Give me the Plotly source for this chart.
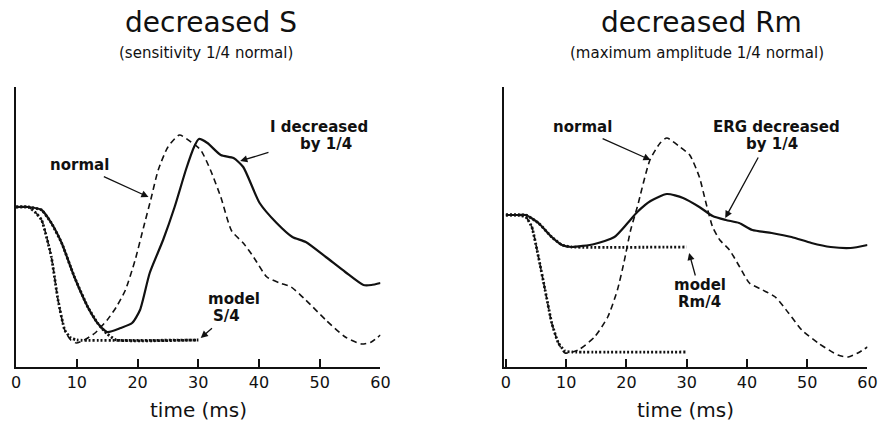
import plotly.graph_objects as go

# ---------------- data (arbitrary response units, time in ms) ----------------
# Left panel: decreased S
s_normal_t = [0, 2, 3.1, 4.2, 5.8, 6.9, 8.0, 9.0, 9.9, 11.5, 13.0, 15.0, 16.5, 18.0, 19.6, 21.0,
              22.2, 23.4, 25.0, 26.9, 28.8, 30.4, 32.0, 33.7, 35.5, 37.4, 39.1, 41.3, 43.4,
              45.3, 47.7, 51.0, 54.2, 56.9, 58.5, 60]
s_normal_v = [160, 160, 155, 147, 110, 67, 37, 27, 24, 28, 34, 47, 60, 77, 107, 140,
              168, 197, 220, 232, 225, 217, 197, 170, 136, 124, 110, 90, 84,
              80, 67, 47, 30, 23, 25, 32]

s_erg_t = [0, 2, 4.2, 5.8, 7.5, 9.6, 11.8, 13.4, 15.0, 17.2, 19.1, 20.4, 22.0, 24.2, 26.1,
           28.0, 29.3, 30.1, 31.5, 33.7, 35.8, 37.4, 40.1, 42.9, 45.5, 47.7, 51.0, 54.2,
           57.2, 58.5, 60]
s_erg_v = [160, 160, 157, 144, 124, 90, 60, 44, 35, 39, 44, 57, 94, 127, 160,
           198, 220, 228, 224, 212, 209, 200, 164, 144, 130, 125, 110, 95,
           82, 82, 84]

s_model_normal_t = [0, 2, 3.1, 4.2, 5.8, 6.9, 8.0, 9.0, 10.0, 30]
s_model_normal_v = [160, 160, 155, 147, 110, 67, 37, 29, 27, 27]

s_model_s4_t = [0, 2, 4.2, 5.8, 7.5, 9.6, 11.8, 13.4, 15.0, 16.5, 30]
s_model_s4_v = [160, 160, 157, 144, 124, 90, 60, 44, 33, 27, 27]

# Right panel: decreased Rm
r_normal_t = [0, 2, 3.3, 4.3, 5.4, 6.5, 7.6, 8.7, 9.8, 12.0, 14.7, 16.9, 18.5, 19.6, 20.7,
              21.8, 23.9, 25.6, 26.7, 28.9, 30.5, 32.1, 33.2, 34.3, 35.5, 37.1, 38.8, 40.4,
              42.6, 44.7, 46.9, 49.1, 51.8, 55.1, 56.8, 58.4, 60]
r_normal_v = [152, 152, 150, 140, 110, 77, 44, 24, 14, 17, 30, 50, 77, 105, 137,
              160, 207, 224, 229, 220, 212, 190, 164, 140, 127, 117, 100, 84,
              77, 70, 54, 37, 24, 12, 10, 14, 20]

r_erg_t = [0, 2, 3.3, 5.4, 7.6, 9.3, 10.9, 14.7, 18.0, 20.2, 21.8, 24.0, 26.7, 29.4, 32.1,
           34.3, 36.5, 38.7, 40.9, 44.1, 47.4, 50.7, 53.9, 57.2, 60]
r_erg_v = [152, 152, 152, 144, 130, 122, 120, 123, 130, 144, 155, 166, 173, 169, 160,
           151, 147, 144, 137, 134, 130, 124, 120, 119, 122]

r_model_normal_t = [0, 2, 3.3, 4.3, 5.4, 6.5, 7.6, 8.7, 9.8, 11.0, 30]
r_model_normal_v = [152, 152, 150, 140, 110, 77, 44, 24, 16, 15, 15]

r_model_rm4_t = [0, 2, 3.3, 5.4, 7.6, 9.3, 10.9, 30]
r_model_rm4_v = [152, 152, 152, 144, 130, 122, 120, 120]

x_ticks = [0, 10, 20, 30, 40, 50, 60]

# ---------------- styling ----------------
W, H = 889, 423
BLACK = "#111111"
FONT = "DejaVu Sans"
dashed = dict(color=BLACK, width=1.6, dash="6px,4px", shape="spline", smoothing=0.6)
solid = dict(color=BLACK, width=2.2, shape="spline", smoothing=0.6)
dotted = dict(color=BLACK, width=2.8, dash="2px,2px", shape="spline", smoothing=0.4)

fig = go.Figure()


def add(t, v, line, xa, ya):
    fig.add_trace(go.Scatter(x=t, y=v, mode="lines", line=line, xaxis=xa, yaxis=ya,
                             hoverinfo="skip", showlegend=False))


add(s_normal_t, s_normal_v, dashed, "x", "y")
add(s_erg_t, s_erg_v, solid, "x", "y")
add(s_model_normal_t, s_model_normal_v, dotted, "x", "y")
add(s_model_s4_t, s_model_s4_v, dotted, "x", "y")

add(r_normal_t, r_normal_v, dashed, "x2", "y2")
add(r_erg_t, r_erg_v, solid, "x2", "y2")
add(r_model_normal_t, r_model_normal_v, dotted, "x2", "y2")
add(r_model_rm4_t, r_model_rm4_v, dotted, "x2", "y2")

y_dom = [(H - 367) / H, (H - 87) / H]

xcommon = dict(showgrid=False, zeroline=False, showline=True, linecolor=BLACK, linewidth=2,
               ticks="inside", ticklen=8, tickwidth=1.6, tickcolor=BLACK,
               tickvals=x_ticks, ticktext=[str(v) for v in x_ticks],
               tickfont=dict(family=FONT, size=16, color=BLACK), fixedrange=True)
ycommon = dict(showgrid=False, zeroline=False, showline=True, linecolor=BLACK, linewidth=2,
               showticklabels=False, ticks="", range=[0, 280], domain=y_dom, fixedrange=True)

fig.update_layout(
    width=W, height=H,
    margin=dict(l=0, r=0, t=0, b=0),
    paper_bgcolor="white", plot_bgcolor="white",
    xaxis=dict(xcommon, domain=[11.7 / W, 382.5 / W], range=[-0.1, 60], anchor="y"),
    yaxis=dict(ycommon, anchor="x"),
    xaxis2=dict(xcommon, domain=[507.5 / W, 877.3 / W], range=[-0.4, 60], anchor="y2"),
    yaxis2=dict(ycommon, anchor="x2"),
)

ann = []


def label(text, x, y, xref, yref, size=15, bold=True):
    ann.append(dict(text=f"<b>{text}</b>" if bold else text, x=x, y=y, xref=xref, yref=yref,
                    showarrow=False, xanchor="center", yanchor="middle",
                    font=dict(family=FONT, size=size, color=BLACK)))


def arrow(tail, head, xref, yref):
    ann.append(dict(text="", x=head[0], y=head[1], ax=tail[0], ay=tail[1],
                    xref=xref, yref=yref, axref=xref, ayref=yref,
                    showarrow=True, arrowhead=2, arrowsize=1.1, arrowwidth=1.3,
                    arrowcolor=BLACK, standoff=0, startstandoff=0))


# titles
label("decreased S", 210 / W, (H - 23) / H, "paper", "paper", size=28, bold=False)
label("(sensitivity 1/4 normal)", 205 / W, (H - 53) / H, "paper", "paper", size=15, bold=False)
label("decreased Rm", 709 / W, (H - 23) / H, "paper", "paper", size=28, bold=False)
label("(maximum amplitude 1/4 normal)", 704 / W, (H - 53) / H, "paper", "paper", size=15, bold=False)

# x-axis titles
label("time (ms)", 197.5 / W, (H - 410) / H, "paper", "paper", size=20, bold=False)
label("time (ms)", 692.5 / W, (H - 410) / H, "paper", "paper", size=20, bold=False)

# left panel labels
label("normal", 10.5, 202, "x", "y")
arrow((14.2, 191), (21.8, 170), "x", "y")
label("I decreased", 49.9, 240, "x", "y")
label("by 1/4", 51.0, 223, "x", "y")
arrow((41.8, 215), (36.9, 206), "x", "y")
label("model", 35.8, 68, "x", "y")
label("S/4", 34.6, 51, "x", "y")
arrow((32.5, 40), (30.4, 29), "x", "y")

# right panel labels
label("normal", 12.7, 240, "x2", "y2")
arrow((15.8, 229), (24.0, 207), "x2", "y2")
label("ERG decreased", 44.9, 240, "x2", "y2")
label("by 1/4", 44.1, 223, "x2", "y2")
arrow((42.0, 211), (36.4, 149), "x2", "y2")
label("model", 32.2, 82, "x2", "y2")
label("Rm/4", 32.2, 65, "x2", "y2")
arrow((31.5, 90), (30.4, 114), "x2", "y2")

fig.update_layout(annotations=ann)
# the page's default 8px body margin would push the 889x423 figure out of the window
fig.write_html("out.html", config={"displayModeBar": False},
               post_script="document.body.style.margin='0px';")
